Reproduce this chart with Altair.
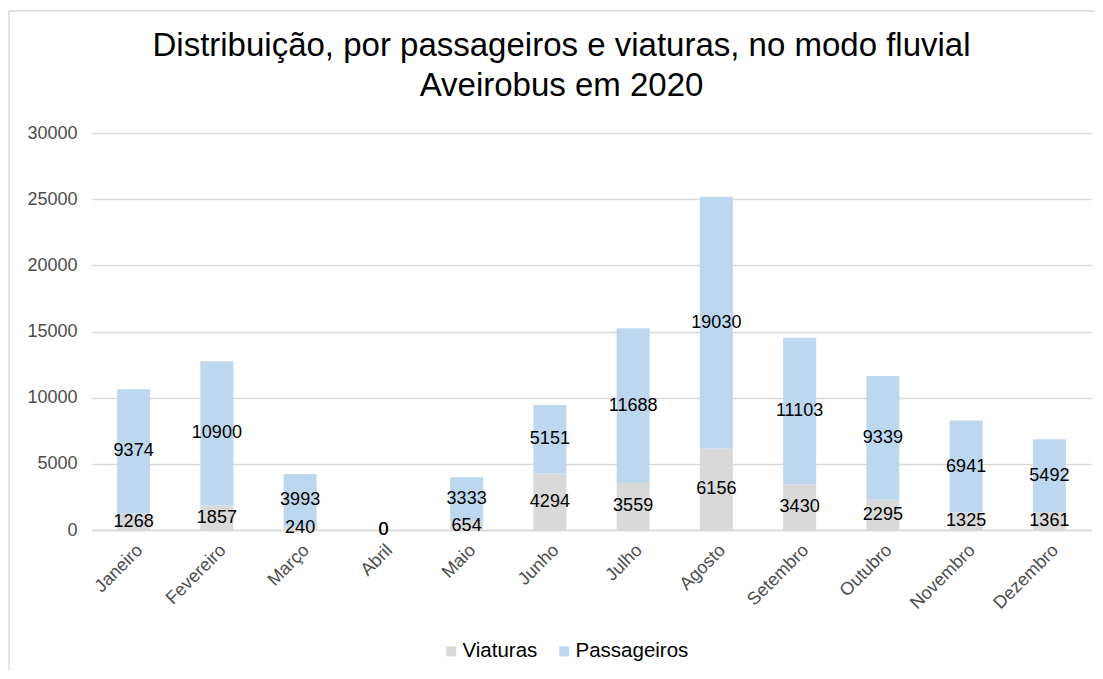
import altair as alt
import pandas as pd

months = ["Janeiro", "Fevereiro", "Março", "Abril", "Maio", "Junho", "Julho",
          "Agosto", "Setembro", "Outubro", "Novembro", "Dezembro"]
viaturas = [1268, 1857, 240, 0, 654, 4294, 3559, 6156, 3430, 2295, 1325, 1361]
passageiros = [9374, 10900, 3993, 0, 3333, 5151, 11688, 19030, 11103, 9339, 6941, 5492]
series = ["Viaturas", "Passageiros"]
colors = ["#d9d9d9", "#bdd7ee"]
y_ticks = [0, 5000, 10000, 15000, 20000, 25000, 30000]

rows = []
for i, m in enumerate(months):
    rows.append({"mes": m, "serie": series[0], "valor": viaturas[i], "ordem": 0})
    rows.append({"mes": m, "serie": series[1], "valor": passageiros[i], "ordem": 1})
df = pd.DataFrame(rows)

FONT = "Liberation Sans"
W, H = 999, 397

x_enc = alt.X("mes:N", sort=months, title=None,
              scale=alt.Scale(paddingInner=0.6, paddingOuter=0.3),
              axis=alt.Axis(labelAngle=-45, labelFont=FONT, labelFontSize=18,
                            labelColor="#4d4d4d", ticks=False, domain=True,
                            domainColor="#d9d9d9", domainWidth=1.5,
                            labelPadding=11, labelAlign="right", labelBaseline="top"))

base = alt.Chart(df)

bars = base.mark_bar(size=33).encode(
    x=x_enc,
    y=alt.Y("sum(valor):Q", title=None,
            scale=alt.Scale(domain=[0, 30000], nice=False),
            axis=alt.Axis(values=y_ticks, format="d", labelFont=FONT, labelFontSize=18,
                          labelColor="#4d4d4d", domain=False, ticks=False,
                          labelPadding=15, gridColor="#d9d9d9", gridWidth=1.5)),
    color=alt.Color("serie:N", scale=alt.Scale(domain=series, range=colors),
                    sort=series,
                    legend=alt.Legend(title=None, orient="none", direction="horizontal",
                                      legendX=349, legendY=508,
                                      symbolType="square", symbolSize=100,
                                      symbolStrokeWidth=0,
                                      labelFont=FONT, labelFontSize=20.5,
                                      labelColor="#000000", labelOffset=1,
                                      columnPadding=16)),
    order=alt.Order("ordem:Q", sort="ascending"),
)

labels = base.transform_stack(
    stack="valor", groupby=["mes"], sort=[alt.SortField("ordem", order="ascending")],
    as_=["y0", "y1"]
).transform_calculate(
    mid="(datum.y0 + datum.y1) / 2"
).mark_text(font=FONT, fontSize=18, color="#000000", baseline="middle").encode(
    x=alt.X("mes:N", sort=months),
    y=alt.Y("mid:Q"),
    text=alt.Text("valor:Q", format="d"),
)

frame = alt.Chart(pd.DataFrame({"a": [0]})).mark_rect(
    fill=None, stroke="#d9d9d9", strokeWidth=1.5
).encode(
    x=alt.value(-83), x2=alt.value(1100), y=alt.value(-122), y2=alt.value(700)
)

chart = alt.layer(frame, bars, labels).properties(
    width=W, height=H,
    padding={"left": 84, "top": 125, "right": 4, "bottom": 140},
    autosize=alt.AutoSizeParams(type="none"),
    title=alt.TitleParams(
        ["Distribuição, por passageiros e viaturas, no modo fluvial", "Aveirobus em 2020"],
        font=FONT, fontSize=33, fontWeight="normal", color="#000000",
        anchor="middle", frame="group", dx=-30, offset=-93, lineHeight=40,
    ),
).configure_view(stroke=None).configure_axisY(grid=True).configure_axisX(grid=False)

chart.save("out.html", embed_options={"renderer": "svg", "actions": False})
